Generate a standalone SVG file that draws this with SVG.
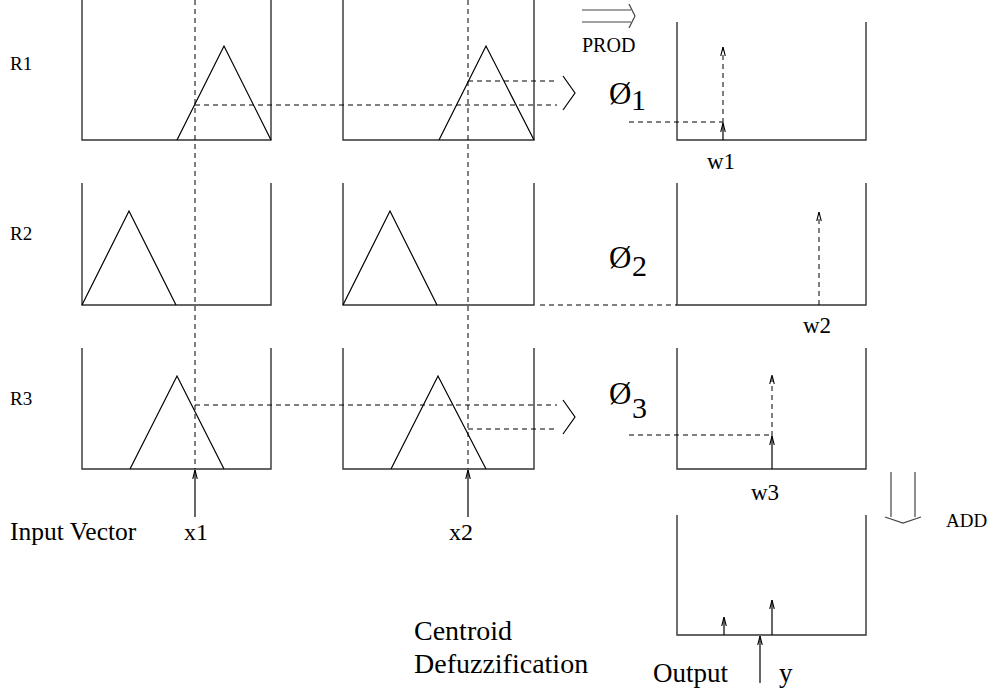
<svg xmlns="http://www.w3.org/2000/svg" width="995" height="693" viewBox="0 0 995 693">
<style>
.box{fill:none;stroke:#333;stroke-width:1.4}
.tri{fill:none;stroke:#000;stroke-width:1.2}
.dash{fill:none;stroke:#000;stroke-width:1;stroke-dasharray:5 4}
.sol{fill:none;stroke:#000;stroke-width:1.2}
.gr{fill:none;stroke:#444;stroke-width:1.2}
.t{font-family:'Liberation Serif','Times New Roman','DejaVu Serif',serif;fill:#000}
</style>
<defs>
<marker id="ah" viewBox="0 0 10 10" refX="10" refY="5" markerWidth="9" markerHeight="9" markerUnits="userSpaceOnUse" orient="auto">
<path d="M0,2.5 L10,5 L0,7.5" fill="none" stroke="#000" stroke-width="1.2"/>
</marker>
</defs>
<rect width="995" height="693" fill="#fff"/>

<g id="r1-in1"><path class="box" d="M82,0 V140 H271 V0"/><path class="tri" d="M177,140 L224,46 L271,140"/></g>
<g id="r1-in2"><path class="box" d="M343,0 V140 H534 V0"/><path class="tri" d="M439,140 L486,46 L534,140"/></g>
<g id="r1-out"><path class="box" d="M677,22 V140 H866 V22"/></g>

<g id="r2-in1"><path class="box" d="M82,183 V305 H271 V183"/><path class="tri" d="M82,305 L129,211 L176,305"/></g>
<g id="r2-in2"><path class="box" d="M343,183 V305 H534 V183"/><path class="tri" d="M343,305 L390,211 L437,305"/></g>
<g id="r2-out"><path class="box" d="M677,183 V305 H866 V183"/></g>

<g id="r3-in1"><path class="box" d="M82,348 V469 H271 V348"/><path class="tri" d="M130,469 L177,376 L224,469"/></g>
<g id="r3-in2"><path class="box" d="M343,348 V469 H534 V348"/><path class="tri" d="M391,469 L438,376 L486,469"/></g>
<g id="r3-out"><path class="box" d="M677,348 V469 H866 V348"/></g>

<g id="output-box"><path class="box" d="M677,515 V635 H866 V515"/></g>

<g id="connectors">
<line class="dash" x1="195" y1="0" x2="195" y2="469"/>
<line class="dash" x1="468" y1="0" x2="468" y2="469"/>
<line class="sol" x1="195" y1="517" x2="195" y2="470" marker-end="url(#ah)"/>
<line class="sol" x1="468" y1="517" x2="468" y2="470" marker-end="url(#ah)"/>

<line class="dash" x1="195" y1="105" x2="557" y2="105"/>
<line class="dash" x1="468" y1="81" x2="557" y2="81"/>
<path class="sol" d="M563,76 L575,93 L563,110"/>

<line class="dash" x1="195" y1="405" x2="557" y2="405"/>
<line class="dash" x1="468" y1="429" x2="557" y2="429"/>
<path class="sol" d="M563,400 L575,417 L563,434"/>

<line class="dash" x1="540" y1="305" x2="677" y2="305"/>

<line class="dash" x1="629" y1="122" x2="723" y2="122"/>
<line class="sol" x1="723" y1="140" x2="723" y2="123" marker-end="url(#ah)"/>
<line class="dash" x1="723" y1="123" x2="723" y2="47" marker-end="url(#ah)"/>

<line class="dash" x1="819" y1="305" x2="819" y2="212" marker-end="url(#ah)"/>

<line class="dash" x1="629" y1="435" x2="772" y2="435"/>
<line class="sol" x1="772" y1="469" x2="772" y2="436" marker-end="url(#ah)"/>
<line class="dash" x1="772" y1="436" x2="772" y2="375" marker-end="url(#ah)"/>

<line class="sol" x1="724" y1="635" x2="724" y2="617" marker-end="url(#ah)"/>
<line class="sol" x1="772" y1="635" x2="772" y2="600" marker-end="url(#ah)"/>
<line class="sol" x1="760" y1="683" x2="760" y2="636" marker-end="url(#ah)"/>

<path class="gr" d="M582,10 H631 M582,22 H631 M629,4 L635,16 L629,28"/>
<path class="gr" d="M891,472 V517 M915,472 V517 M885,517 L903,523 L921,517"/>
</g>

<g id="labels" font-family="'Liberation Serif', 'Times New Roman', 'DejaVu Serif', serif">
<text class="t" x="10" y="70" font-size="19">R1</text>
<text class="t" x="10" y="240" font-size="19">R2</text>
<text class="t" x="10" y="405" font-size="19">R3</text>
<text class="t" x="582" y="52" font-size="20">PROD</text>
<text class="t" x="946" y="527" font-size="19">ADD</text>
<text class="t" x="609" y="104" font-size="31">Ø</text><text class="t" x="631" y="110" font-size="30">1</text>
<text class="t" x="609" y="268" font-size="31">Ø</text><text class="t" x="632" y="276" font-size="30">2</text>
<text class="t" x="609" y="404" font-size="31">Ø</text><text class="t" x="632" y="418" font-size="30">3</text>
<text class="t" x="707" y="169" font-size="23">w1</text>
<text class="t" x="803" y="333" font-size="23">w2</text>
<text class="t" x="751" y="500" font-size="23">w3</text>
<text class="t" x="10" y="540" font-size="25.5">Input Vector</text>
<text class="t" x="184" y="540" font-size="24">x1</text>
<text class="t" x="449" y="540" font-size="24">x2</text>
<text class="t" x="414" y="640" font-size="28">Centroid</text>
<text class="t" x="414" y="673" font-size="28">Defuzzification</text>
<text class="t" x="653" y="682" font-size="27">Output</text>
<text class="t" x="779" y="682" font-size="27">y</text>
</g>
</svg>
